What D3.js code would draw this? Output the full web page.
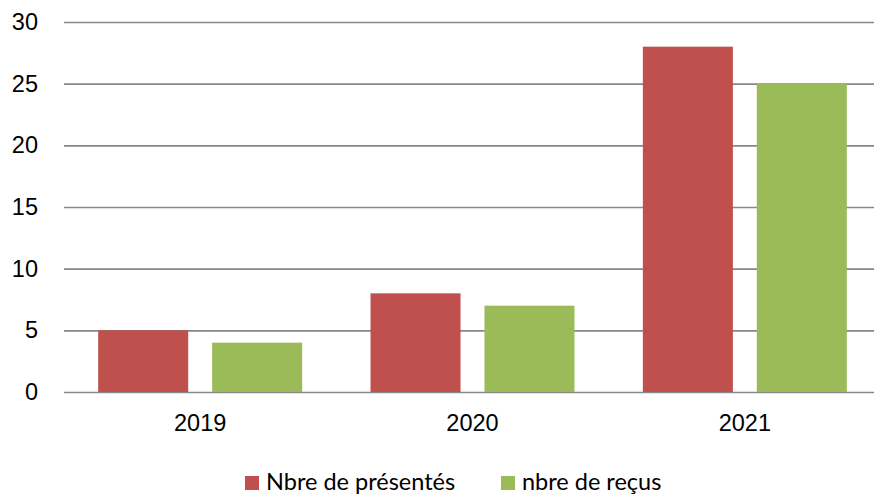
<!DOCTYPE html>
<html>
<head>
<meta charset="utf-8">
<script src="https://cdn.jsdelivr.net/npm/d3@7"></script>
<style>
  body { margin: 0; background: #fff; }
  svg { display: block; overflow: hidden; font-family: Lato, "Open Sans", sans-serif; }
</style>
</head>
<body>
<div id="chart"></div>
<script>
// chart data
const years = ["2019", "2020", "2021"];
const seriesNames = ["Nbre de présentés", "nbre de reçus"];
const presentes = [5, 8, 28];
const recus = [4, 7, 25];
const yTicks = [0, 5, 10, 15, 20, 25, 30];
const colors = ["#C0504D", "#9BBB59"];

const width = 874;
const height = 494;
const margin = {left: 64, right: -7, top: 22, bottom: 102};
const fontSize = "23.5px";

const svg = d3.select("#chart")
  .append("svg")
  .attr("width", width)
  .attr("height", height);

// scales
const yScale = d3.scaleLinear()
  .domain([0, 30])
  .range([height - margin.bottom, margin.top]);

const x0 = d3.scaleBand()
  .domain(years)
  .range([margin.left, width - margin.right])
  .padding(0);

const x1 = d3.scaleBand()
  .domain(d3.range(seriesNames.length))
  .range([0, x0.bandwidth()])
  .paddingInner(0.21)
  .paddingOuter(0.3);

// gridlines + y labels
const yAxis = svg.append("g")
  .attr("transform", `translate(${margin.left},0)`)
  .call(d3.axisLeft(yScale)
    .tickValues(yTicks)
    .tickSize(-(width - margin.left - margin.right))
    .tickPadding(26));
yAxis.select(".domain").remove();
yAxis.selectAll(".tick line")
  .attr("stroke", "#878787")
  .attr("stroke-width", 1.6);
yAxis.selectAll(".tick text")
  .attr("font-size", fontSize)
  .attr("fill", "#000");

// bars
const rows = years.map((y, i) => ({year: y, values: [presentes[i], recus[i]]}));

svg.selectAll(".group")
  .data(rows)
  .enter()
  .append("g")
    .attr("class", "group")
    .attr("transform", d => `translate(${x0(d.year)},0)`)
  .selectAll("rect")
  .data(d => d.values.map((v, k) => ({k: k, value: v})))
  .enter()
  .append("rect")
    .attr("x", d => x1(d.k))
    .attr("y", d => yScale(d.value))
    .attr("width", x1.bandwidth())
    .attr("height", d => yScale(0) - yScale(d.value))
    .attr("fill", d => colors[d.k]);

// x axis labels
const xAxis = svg.append("g")
  .attr("transform", `translate(0,${yScale(0)})`)
  .call(d3.axisBottom(x0).tickSize(0).tickPadding(22));
xAxis.select(".domain").remove();
xAxis.selectAll(".tick text")
  .attr("font-size", fontSize)
  .attr("fill", "#000");

// legend
const legendX = [245, 501];
const legend = svg.selectAll(".legend")
  .data(seriesNames)
  .enter()
  .append("g")
    .attr("class", "legend")
    .attr("transform", (d, i) => `translate(${legendX[i]},476)`);
legend.append("rect")
  .attr("width", 14)
  .attr("height", 14)
  .attr("fill", (d, i) => colors[i]);
legend.append("text")
  .attr("x", 21)
  .attr("y", 14)
  .attr("font-size", fontSize)
  .attr("fill", "#000")
  .text(d => d);
</script>
</body>
</html>
